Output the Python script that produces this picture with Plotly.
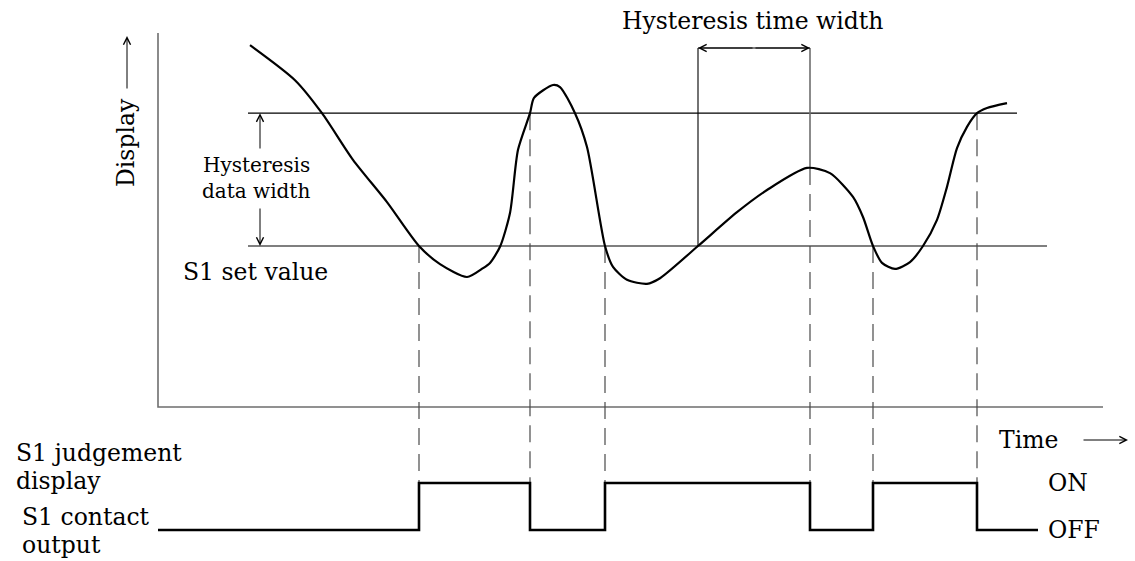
import plotly.graph_objects as go

# ---- data -----------------------------------------------------------------
# measured display value over time (time units, display units)
curve_t = [9.2, 13.7, 16.4, 19.5, 22.9, 26.1, 28.2, 30.9, 32.5, 33.2, 34.2,
           35.2, 36.0, 37.2, 37.6, 39.5, 40.2, 41.7, 42.9, 44.7, 45.5, 46.9,
           48.9, 50.2, 54.0, 57.9, 60.9, 64.9, 67.2, 69.5, 70.5, 71.5, 72.4,
           73.7, 75.2, 76.5, 77.9, 78.9, 79.9, 80.9, 81.9, 82.9, 84.9]
curve_v = [89.9, 81.2, 73.0, 61.4, 50.9, 40.0, 35.5, 32.3, 34.5, 35.8, 39.8,
           48.2, 63.9, 73.0, 76.8, 80.0, 79.5, 73.0, 64.6, 40.0, 34.8, 31.6,
           30.6, 32.0, 40.0, 48.4, 53.9, 59.4, 58.1, 52.2, 47.2, 40.0, 35.8,
           34.3, 36.0, 40.0, 46.5, 54.7, 64.3, 69.6, 73.0, 74.3, 75.5]

SET_VALUE = 40.0           # S1 set value
HYST_DATA = 33.0           # hysteresis data width
UPPER = SET_VALUE + HYST_DATA

# switching instants and the level each marker starts from
switch_t = [26.1, 37.2, 44.7, 65.2, 71.5, 81.9]
switch_v = [SET_VALUE, UPPER, SET_VALUE, 59.4, SET_VALUE, UPPER]

# contact output state (1 = ON, 0 = OFF), stepped
state_t = [0.0, 26.1, 37.2, 44.7, 65.2, 71.5, 81.9, 88.0]
state_s = [0, 1, 0, 1, 0, 1, 0, 0]

hyst_time_start = 54.0     # curve rises through the set value
hyst_time_end = 65.2       # contact switches after the hysteresis time

# ---- geometry of the drawing ---------------------------------------------
W, H = 1135, 561
X0_PX, T_PX = 158, 10.0           # pixel of t=0, pixels per time unit
Y0_PX, V_PX = 407, 4.025          # pixel of v=0, pixels per display unit
S0_PX, S_PX = 530, 47.0           # pixel of OFF, pixels per state unit

x_range = [-X0_PX / T_PX, (W - X0_PX) / T_PX]
y_range = [-(H - Y0_PX) / V_PX, Y0_PX / V_PX]
y2_range = [-(H - S0_PX) / S_PX, S0_PX / S_PX]


def state_to_v(s):
    py = S0_PX - S_PX * s
    return (Y0_PX - py) / V_PX


def px(x):
    return x / W


def py(y):
    return 1 - y / H


INK = "black"
GREY = "#6e6e6e"
FONT = "DejaVu Serif"
FS = 23.5

fig = go.Figure()

# axes frame
axis_top = (Y0_PX - 33) / V_PX
axis_right = (1103 - X0_PX) / T_PX
fig.add_trace(go.Scatter(x=[0, 0, axis_right], y=[axis_top, 0, 0], mode="lines",
                         line=dict(color=GREY, width=1.6), hoverinfo="skip"))

# threshold lines
fig.add_trace(go.Scatter(x=[9.0, 85.9], y=[UPPER, UPPER], mode="lines",
                         line=dict(color=INK, width=1.1), hoverinfo="skip"))
fig.add_trace(go.Scatter(x=[9.0, 88.9], y=[SET_VALUE, SET_VALUE], mode="lines",
                         line=dict(color=INK, width=1.1), hoverinfo="skip"))

# dashed switching markers down to the output trace
on_v = state_to_v(1)
for t, v in zip(switch_t, switch_v):
    fig.add_trace(go.Scatter(x=[t, t], y=[v, on_v], mode="lines",
                             line=dict(color="#4a4a4a", width=1.2, dash="17px,9px"),
                             hoverinfo="skip"))

# hysteresis time width bracket
bracket_v = (Y0_PX - 48) / V_PX
fig.add_trace(go.Scatter(x=[hyst_time_start, hyst_time_start],
                         y=[SET_VALUE, bracket_v], mode="lines",
                         line=dict(color=INK, width=1.1), hoverinfo="skip"))
fig.add_trace(go.Scatter(x=[hyst_time_end, hyst_time_end],
                         y=[59.4, bracket_v], mode="lines",
                         line=dict(color=GREY, width=1.6), hoverinfo="skip"))
fig.add_trace(go.Scatter(x=[hyst_time_start, hyst_time_end],
                         y=[bracket_v, bracket_v], mode="lines",
                         line=dict(color=INK, width=1.1), hoverinfo="skip"))

# display curve
fig.add_trace(go.Scatter(x=curve_t, y=curve_v, mode="lines",
                         line=dict(color=INK, width=2.2, shape="spline", smoothing=0.7),
                         hoverinfo="skip"))

# contact output
fig.add_trace(go.Scatter(x=state_t, y=state_s, yaxis="y2", mode="lines",
                         line=dict(color=INK, width=2.6, shape="hv"),
                         hoverinfo="skip"))

annotations = []


def arrow(x, y, ax, ay):
    annotations.append(dict(x=x, y=y, ax=ax, ay=ay, xref="x", yref="y",
                            axref="x", ayref="y", text="", showarrow=True,
                            arrowhead=5, arrowsize=1.4, arrowwidth=1,
                            arrowcolor=INK, standoff=0))


# hysteresis data width arrows
hx = (260 - X0_PX) / T_PX
arrow(hx, UPPER, hx, (Y0_PX - 150) / V_PX)
arrow(hx, SET_VALUE, hx, (Y0_PX - 207) / V_PX)
# hysteresis time width arrows
arrow(hyst_time_start, bracket_v, (hyst_time_start + hyst_time_end) / 2, bracket_v)
arrow(hyst_time_end, bracket_v, (hyst_time_start + hyst_time_end) / 2, bracket_v)
# axis direction arrows
dx = (127 - X0_PX) / T_PX
arrow(dx, (Y0_PX - 36) / V_PX, dx, (Y0_PX - 90) / V_PX)
ty = (Y0_PX - 440) / V_PX
arrow((1128 - X0_PX) / T_PX, ty, (1082 - X0_PX) / T_PX, ty)


def label(text, x, y, size, xanchor="left", angle=0):
    annotations.append(dict(text=text, x=px(x), y=py(y), xref="paper", yref="paper",
                            showarrow=False, xanchor=xanchor, yanchor="middle",
                            textangle=angle, align="left",
                            font=dict(family=FONT, size=size, color=INK)))


label("Hysteresis time width", 752, 21, FS, xanchor="center")
label("Hysteresis", 256, 165, 20, xanchor="center")
label("data width", 256, 191, 20, xanchor="center")
label("S1 set value", 181, 272, FS)
label("Display", 126, 143, FS, xanchor="center", angle=-90)
label("Time", 997, 440, FS)
label("S1 judgement", 14, 453, FS)
label("display", 14, 481, FS)
label("S1 contact", 20, 517, FS)
label("output", 20, 545, FS)
label("ON", 1046, 483, FS)
label("OFF", 1046, 530, FS)

fig.update_layout(
    width=W, height=H, autosize=False,
    margin=dict(l=0, r=0, t=0, b=0),
    paper_bgcolor="white", plot_bgcolor="white",
    showlegend=False,
    xaxis=dict(range=x_range, visible=False, fixedrange=True),
    yaxis=dict(range=y_range, visible=False, fixedrange=True),
    yaxis2=dict(range=y2_range, visible=False, overlaying="y", fixedrange=True),
    annotations=annotations,
)

fig.write_html("out.html")
